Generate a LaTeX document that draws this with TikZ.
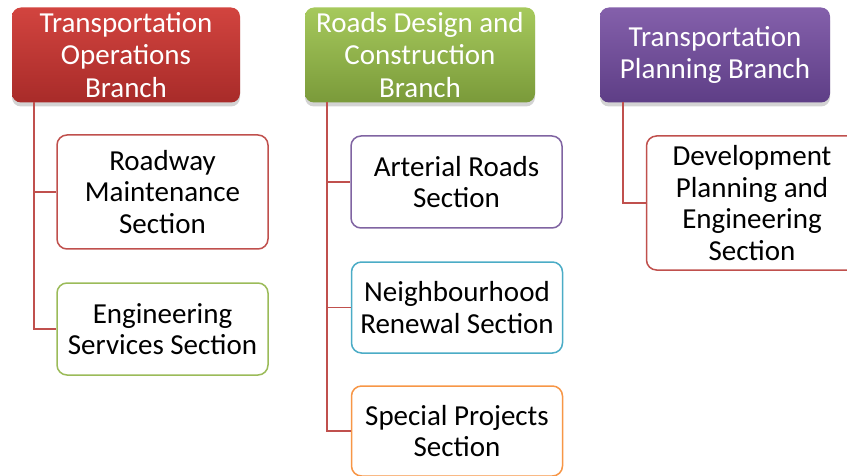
\documentclass[tikz,border=0pt]{standalone}
\usepackage{fontspec}
\setmainfont{Carlito}
\usetikzlibrary{calc,shadows}

\definecolor{opsred}{HTML}{C0504D}
\definecolor{roadgreen}{HTML}{9BBB59}
\definecolor{planpurple}{HTML}{8064A2}
\definecolor{renewblue}{HTML}{4BACC6}
\definecolor{specorange}{HTML}{F79646}
% head gradients
\definecolor{opstop}{HTML}{D2443F}
\definecolor{opsbot}{HTML}{A82B29}
\definecolor{roadtop}{HTML}{A6C95C}
\definecolor{roadbot}{HTML}{7A9A3A}
\definecolor{plantop}{HTML}{8460AB}
\definecolor{planbot}{HTML}{5E3E86}

\tikzset{
  branch/.style={rounded corners=9pt, inner sep=0pt, align=center, text=white,
    minimum height=95pt, drop shadow={shadow xshift=0pt, shadow yshift=-4pt, opacity=0.35},
    font=\fontsize{29}{32.5}\selectfont},
  section/.style={draw=#1, line width=1.5pt, fill=white, rounded corners=10pt,
    inner sep=0pt, align=center, minimum width=211pt,
    font=\fontsize{29}{31.5}\selectfont},
  link/.style={draw=opsred, line width=1.5pt}
}

\begin{document}
\begin{tikzpicture}[x=1pt,y=-1pt]
	\useasboundingbox (0,0) rectangle (847,476);
	
	% where the tree lines leave each branch head
	\coordinate (opsspine) at (34,102);
	\coordinate (roadspine) at (327,102);
	\coordinate (planspine) at (623,102);
	
	% Branch heads
	\node[branch, minimum width=228pt, top color=opstop, bottom color=opsbot]
		(opsbranch) at (126,55) {Transportation\\Operations\\Branch};
	\node[branch, minimum width=230pt, top color=roadtop, bottom color=roadbot]
		(roadsbranch) at (420,55) {Roads Design and\\Construction\\Branch};
	\node[branch, minimum width=230pt, top color=plantop, bottom color=planbot]
		(planbranch) at (715,55) {Transportation\\Planning Branch};
	
	% Sections
	\node[section=opsred, minimum height=114pt] (maint) at (162.5,192) {Roadway\\Maintenance\\Section};
	\node[section=roadgreen, minimum height=92pt] (engserv) at (162.5,329) {Engineering\\Services Section};
	
	\node[section=planpurple, minimum height=92pt] (arterial) at (456.5,182) {Arterial Roads\\Section};
	\node[section=renewblue, minimum height=91pt] (renewal) at (457,307.5) {Neighbourhood\\Renewal Section};
	\node[section=specorange, minimum height=90pt] (special) at (457,431) {Special Projects\\Section};
	
	\node[section=opsred, minimum height=134pt] (devplan) at (752,203) {Development\\Planning and\\Engineering\\Section};
	
	% Tree lines
	\draw[link] (opsspine) |- (maint.west);
	\draw[link] (opsspine) |- (engserv.west);
	\draw[link] (roadspine) |- (arterial.west);
	\draw[link] (roadspine) |- (renewal.west);
	\draw[link] (roadspine) |- (special.west);
	\draw[link] (planspine) |- (devplan.west);
	
\end{tikzpicture}
\end{document}
